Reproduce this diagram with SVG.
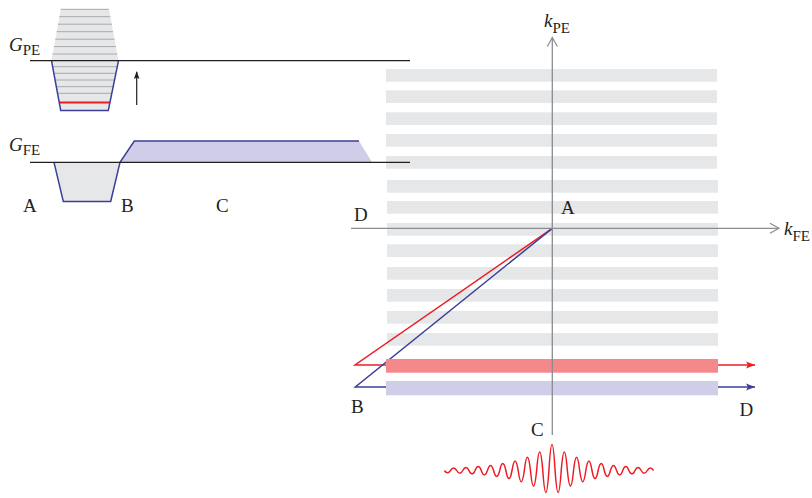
<svg xmlns="http://www.w3.org/2000/svg" width="812" height="498" viewBox="0 0 812 498">
<style>
.lbl{font-family:"Liberation Serif","Times New Roman",serif;font-size:19px;fill:#231f20}
.it{font-style:italic}
.sub{font-style:normal;font-size:15px}
.bar{fill:#e6e7e8}
.stripe{stroke:#a7a9ac;stroke-width:1}
.axis{stroke:#231f20;stroke-width:1.2;fill:none}
.kax{stroke:#8a8c8e;stroke-width:1.3;fill:none}
.blue{stroke:#3b3f98;stroke-width:1.5;fill:none}
.red{stroke:#ed1c24;stroke-width:1.5;fill:none}
</style>
<defs>
<marker id="ah-red" markerUnits="userSpaceOnUse" markerWidth="10" markerHeight="8" refX="9" refY="4" orient="auto"><path d="M0,0.5 L9,4 L0,7.5 L2,4 Z" fill="#ed1c24"/></marker>
<marker id="ah-blue" markerUnits="userSpaceOnUse" markerWidth="10" markerHeight="8" refX="9" refY="4" orient="auto"><path d="M0,0.5 L9,4 L0,7.5 L2,4 Z" fill="#3b3f98"/></marker>
<marker id="ah-gray" markerUnits="userSpaceOnUse" markerWidth="12" markerHeight="12" refX="10" refY="6" orient="auto"><path d="M1,1 L10,6 L1,11" fill="none" stroke="#8a8c8e" stroke-width="1.2"/></marker>
<marker id="ah-black" markerUnits="userSpaceOnUse" markerWidth="8" markerHeight="10" refX="7" refY="4" orient="auto"><path d="M0,1.2 L8,4 L0,6.8 L1.5,4 Z" fill="#231f20"/></marker>
</defs>

<!-- k-space grid lines -->
<g id="kspace-lines">
<rect class="bar" x="386" y="69" width="331" height="12.7"/>
<rect class="bar" x="386" y="90.3" width="331" height="12.7"/>
<rect class="bar" x="386" y="112.3" width="331" height="12.7"/>
<rect class="bar" x="386" y="134" width="331" height="12.7"/>
<rect class="bar" x="386" y="156" width="331" height="12.7"/>
<rect class="bar" x="387" y="180" width="331" height="12.7"/>
<rect class="bar" x="387" y="201" width="331" height="12.7"/>
<rect class="bar" x="387" y="223" width="331" height="12.7"/>
<rect class="bar" x="387" y="244.3" width="331" height="12.7"/>
<rect class="bar" x="387" y="267" width="331" height="12.7"/>
<rect class="bar" x="387" y="289" width="331" height="12.7"/>
<rect class="bar" x="387" y="311" width="331" height="12.7"/>
<rect class="bar" x="387" y="333" width="331" height="12.7"/>
</g>

<!-- G_PE gradient -->
<g id="gpe">
<path d="M60.7,9.3 L109,9.3 L118.5,60.7 L51.5,60.7 Z" fill="#e6e7e8"/>
<path d="M51.5,60.7 L60.7,110.5 L108.3,110.5 L118.5,60.7 Z" fill="#e6e7e8"/>
<g class="stripe">
<line x1="60.7" y1="9.3" x2="109" y2="9.3"/>
<line x1="59.3" y1="16.7" x2="110.4" y2="16.7"/>
<line x1="58" y1="24.2" x2="111.8" y2="24.2"/>
<line x1="56.6" y1="31.7" x2="113.1" y2="31.7"/>
<line x1="55.3" y1="39.2" x2="114.5" y2="39.2"/>
<line x1="53.9" y1="46.6" x2="115.9" y2="46.6"/>
<line x1="52.6" y1="54" x2="117.2" y2="54"/>
<line x1="52.6" y1="66.7" x2="117.3" y2="66.7"/>
<line x1="53.8" y1="73.3" x2="115.9" y2="73.3"/>
<line x1="55.1" y1="80" x2="114.5" y2="80"/>
<line x1="56.3" y1="86.7" x2="113.2" y2="86.7"/>
<line x1="57.5" y1="93.3" x2="111.9" y2="93.3"/>
</g>
<line x1="59.2" y1="102.6" x2="110" y2="102.6" stroke="#ed1c24" stroke-width="2"/>
<path class="blue" d="M51.5,60.7 L60.7,110.5 L108.3,110.5 L118.5,60.7" stroke-width="1.3"/>
<line class="axis" x1="30" y1="60.7" x2="410" y2="60.7"/>
<line x1="136.7" y1="105" x2="136.7" y2="72" stroke="#231f20" stroke-width="1.2" marker-end="url(#ah-black)"/>
<text class="lbl it" x="9" y="51" font-size="21">G<tspan class="sub" dy="4">PE</tspan></text>
</g>

<!-- G_FE gradient -->
<g id="gfe">
<path d="M54,162.3 L63.3,201.5 L110.7,201.5 L120,162.3 Z" fill="#e6e7e8"/>
<path d="M120,162.3 L134.3,141 L359,141 L372,162.3 Z" fill="#cfcde7"/>
<path class="blue" d="M54,162.3 L63.3,201.5 L110.7,201.5 L120,162.3 L134.3,141 L359,141" stroke-width="1.3"/>
<line class="axis" x1="30" y1="162.3" x2="410" y2="162.3"/>
<text class="lbl it" x="9" y="151" font-size="21">G<tspan class="sub" dy="4">FE</tspan></text>
<text class="lbl" x="23" y="212">A</text>
<text class="lbl" x="121" y="212">B</text>
<text class="lbl" x="216" y="212">C</text>
</g>

<!-- trajectories -->
<g id="connectors">
<path id="traj-red" class="red" d="M552.3,228.3 L355,365 L755,365" marker-end="url(#ah-red)"/>
<path id="traj-blue" class="blue" d="M552.3,228.3 L355.3,387 L755,387" marker-end="url(#ah-blue)"/>
</g>

<g id="acquired-lines">
<rect x="386" y="359" width="332" height="13.7" fill="#f3898b"/>
<rect x="386" y="381" width="332" height="14.3" fill="#cfcde7"/>
</g>

<!-- k-space axes -->
<g id="k-axes">
<line class="kax" x1="552.3" y1="435" x2="552.3" y2="37.5" marker-end="url(#ah-gray)"/>
<line class="kax" x1="351" y1="228.3" x2="779" y2="228.3" marker-end="url(#ah-gray)"/>
<text class="lbl it" x="544" y="27" font-size="22">k<tspan class="sub" dy="5.5" font-size="16">PE</tspan></text>
<text class="lbl it" x="784" y="235" font-size="22">k<tspan class="sub" dy="6" font-size="16">FE</tspan></text>
</g>

<g id="k-labels">
<text class="lbl" x="561" y="213.5">A</text>
<text class="lbl" x="354" y="221">D</text>
<text class="lbl" x="351" y="413">B</text>
<text class="lbl" x="739.5" y="416">D</text>
<text class="lbl" x="531" y="436">C</text>
</g>

<!-- echo signal -->
<g id="signal">
<path class="red" stroke-width="1.2" d="M444.375,470.5 q3.075,4.4 6.15,0 q3.075,-4.8 6.15,0 q3.075,5.4 6.15,0 q3.075,-6 6.15,0 q3.075,6.8 6.15,0 q3.075,-7.8 6.15,0 q3.075,8.8 6.15,0 q3.075,-10.2 6.15,0 q3.075,11.8 6.15,0 q3.075,-13.8 6.15,0 q3.075,16.2 6.15,0 q3.075,-19 6.15,0 q3.075,22.4 6.15,0 q3.075,-26.4 6.15,0 q3.075,31.2 6.15,0 q3.075,-36.8 6.15,0 q3.075,43.8 6.15,0 q3.075,-52 6.15,0 q3.075,43.8 6.15,0 q3.075,-36.8 6.15,0 q3.075,31.2 6.15,0 q3.075,-26.4 6.15,0 q3.075,22.4 6.15,0 q3.075,-19 6.15,0 q3.075,16.2 6.15,0 q3.075,-13.8 6.15,0 q3.075,11.8 6.15,0 q3.075,-10.2 6.15,0 q3.075,8.8 6.15,0 q3.075,-7.8 6.15,0 q3.075,6.8 6.15,0 q3.075,-6 6.15,0 q3.075,5.4 6.15,0 q3.075,-4.8 6.15,0"/>
</g>
</svg>
